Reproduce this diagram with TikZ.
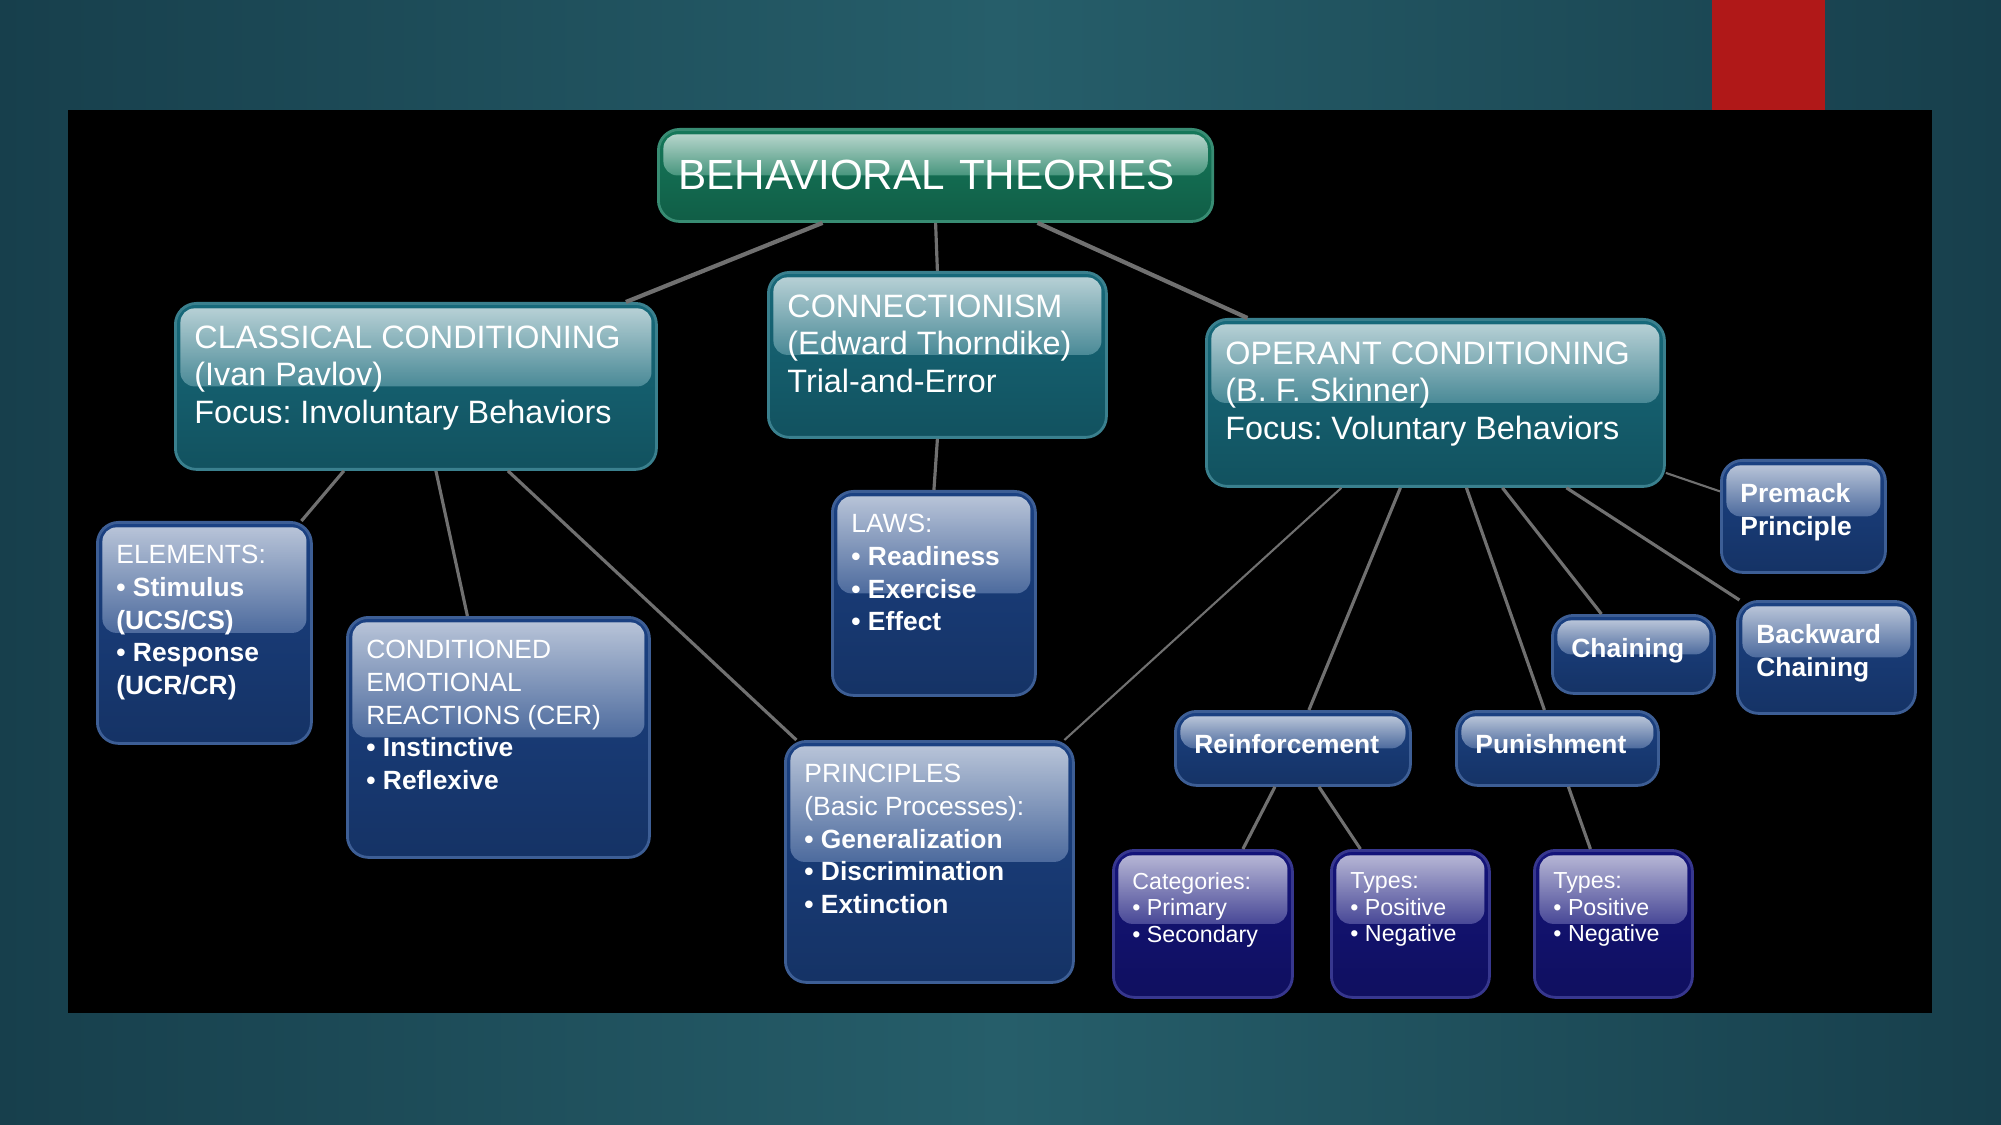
\documentclass[tikz,border=0pt]{standalone}
\usepackage{fontspec}
\setmainfont{Liberation Sans}
\usetikzlibrary{calc,fadings}
\frenchspacing

\newdimen\pxu \pxu=0.01cm
\newcommand{\cell}[3]{\parbox[c][\dimexpr#2\pxu-0.44cm\relax][t]{\dimexpr#1\pxu-0.38cm\relax}{\raggedright#3}}

\definecolor{slidemid}{HTML}{265E6A}
\definecolor{slidedark}{HTML}{173F4C}
\definecolor{accentred}{HTML}{B01818}
\definecolor{linkgray}{HTML}{707070}
\definecolor{titlegreen}{HTML}{15785A}
\definecolor{theoryteal}{HTML}{17697A}
\definecolor{detailblue}{HTML}{1B4182}
\definecolor{subnavy}{HTML}{14147A}

\tikzset{
  gloss/.style={path picture={
    \fill[#1!78!white, rounded corners=4pt]
      ($(path picture bounding box.north west)+(5,5)$) rectangle
      ($(path picture bounding box.north east)!0.5!(path picture bounding box.south east)+(-5,0)$);
    \fill[white, path fading=south, fill opacity=0.6, rounded corners=4pt]
      ($(path picture bounding box.north west)+(5,5)$) rectangle
      ($(path picture bounding box.north east)!0.5!(path picture bounding box.south east)+(-5,0)$);}},
  box/.style={rectangle, rounded corners=6pt, anchor=north west, text=white,
    inner xsep=0.19cm, inner ysep=0.22cm, line width=0.8pt,
    draw=#1!85!white, top color=#1, bottom color=#1!78!black, gloss=#1},
  link/.style={draw=linkgray, line width=0.9pt},
}

\begin{document}
\begin{tikzpicture}[x=0.01cm, y=-0.01cm,
  headbox/.style={box=titlegreen, font=\fontsize{12}{14}\selectfont,
    minimum height=0.92cm, text width=5.14cm, align=left, inner xsep=0.2cm},
  theory/.style={box=theoryteal, font=\fontsize{9.2}{10.8}\selectfont},
  detail/.style={box=detailblue, font=\fontsize{7.5}{9.3}\selectfont, inner ysep=0.23cm},
  subbox/.style={box=subnavy, font=\fontsize{6.6}{7.6}\selectfont}]
\useasboundingbox (0,0) rectangle (2001,1125);
% slide
\shade[left color=slidedark, right color=slidedark, middle color=slidemid] (0,0) rectangle (2001,1125);
\fill[accentred] (1712,0) rectangle (1825,110);
\fill[black] (68,110) rectangle (1932,1013);

% top levels
\node[headbox] (title) at (657,128) {BEHAVIORAL THEORIES};
\node[theory] (classical) at (174,302) {\cell{481}{166}{CLASSICAL CONDITIONING\\(Ivan Pavlov)\\Focus: Involuntary Behaviors}};
\node[theory] (connectionism) at (767,271) {\cell{338}{165}{CONNECTIONISM\\(Edward Thorndike)\\Trial-and-Error}};
\node[theory] (operant) at (1205,318) {\cell{458}{167}{OPERANT CONDITIONING\\(B. F. Skinner)\\Focus: Voluntary Behaviors}};

% details
\node[detail] (elements) at (96,521) {\cell{214}{219}{ELEMENTS:\\\textbf{• Stimulus}\\\textbf{(UCS/CS)}\\\textbf{• Response}\\\textbf{(UCR/CR)}}};
\node[detail] (cer) at (346,616) {\cell{302}{238}{CONDITIONED\\EMOTIONAL\\REACTIONS (CER)\\\textbf{• Instinctive}\\\textbf{• Reflexive}}};
\node[detail] (laws) at (831,490) {\cell{203}{202}{LAWS:\\\textbf{• Readiness}\\\textbf{• Exercise}\\\textbf{• Effect}}};
\node[detail] (principles) at (784,740) {\cell{288}{239}{PRINCIPLES\\(Basic Processes):\\\textbf{• Generalization}\\\textbf{• Discrimination}\\\textbf{• Extinction}}};
\node[detail] (reinforcement) at (1174,710) {\cell{235}{72}{\textbf{Reinforcement}}};
\node[detail] (punishment) at (1455,710) {\cell{202}{72}{\textbf{Punishment}}};
\node[detail] (chaining) at (1551,614) {\cell{162}{76}{\textbf{Chaining}}};
\node[detail] (premack) at (1720,459) {\cell{164}{110}{\textbf{Premack}\\\textbf{Principle}}};
\node[detail] (backward) at (1736,600) {\cell{178}{110}{\textbf{Backward}\\\textbf{Chaining}}};

% sub types
\node[subbox] (categories) at (1112,849) {\cell{179}{147}{Categories:\\• Primary\\• Secondary}};
\node[subbox] (reintypes) at (1330,849) {\cell{158}{147}{Types:\\• Positive\\• Negative}};
\node[subbox] (puntypes) at (1533,849) {\cell{158}{147}{Types:\\• Positive\\• Negative}};

% links
\draw[link, line width=1.2pt] ($(title.south)+(-113,0)$) -- ($(classical.north)+(210,0)$);
\draw[link] (title.south) -- (connectionism.north);
\draw[link, line width=1.2pt] ($(title.south)+(102,0)$) -- ($(operant.north)+(-188,0)$);
\draw[link] ($(classical.south)+(-72,0)$) -- ($(elements.north)+(97,0)$);
\draw[link] ($(classical.south)+(20,0)$) -- ($(cer.north)+(-31,0)$);
\draw[link] ($(classical.south)+(92,0)$) -- ($(principles.north)+(-133,0)$);
\draw[link] (connectionism.south) -- (laws.north);
\draw[link, line width=0.6pt] ($(operant.south)+(-94,0)$) -- ($(principles.north)+(135,0)$);
\draw[link] ($(operant.south)+(-35,0)$) -- ($(reinforcement.north)+(16,0)$);
\draw[link] ($(operant.south)+(31,0)$) -- ($(punishment.north)+(-13,0)$);
\draw[link] ($(operant.south)+(67,0)$) -- ($(chaining.north)+(-32,0)$);
\draw[link] ($(operant.south)+(131,0)$) -- ($(backward.north)+(-87,0)$);
\draw[link, line width=0.6pt] ($(operant.east)+(0,70)$) -- ($(premack.west)+(0,-25)$);
\draw[link] ($(reinforcement.south)+(-18,0)$) -- ($(categories.north)+(40,0)$);
\draw[link] ($(reinforcement.south)+(26,0)$) -- ($(reintypes.north)+(-50,0)$);
\draw[link] ($(punishment.south)+(11,0)$) -- ($(puntypes.north)+(-23,0)$);
\end{tikzpicture}
\end{document}
